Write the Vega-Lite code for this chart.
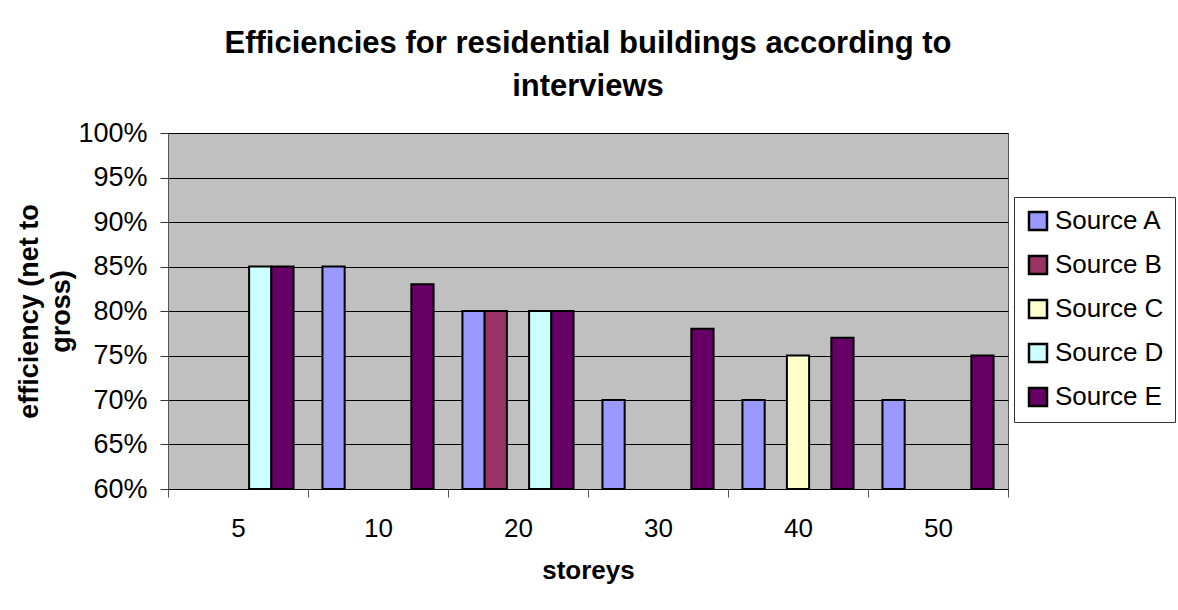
{
  "$schema": "https://vega.github.io/schema/vega-lite/v6.json",
  "autosize": {"type": "none"},
  "padding": {"left": 168, "top": 133, "right": 170, "bottom": 121},
  "width": 840,
  "height": 356,
  "background": "white",
  "title": {
    "text": ["Efficiencies for residential buildings according to", "interviews"],
    "font": "Liberation Sans",
    "fontSize": 31,
    "fontWeight": "bold",
    "lineHeight": 43,
    "anchor": "middle",
    "frame": "group",
    "offset": 16,
    "color": "black"
  },
  "data": {
    "values": [
      {"storeys": "5", "source": "Source D", "efficiency": 0.85},
      {"storeys": "5", "source": "Source E", "efficiency": 0.85},
      {"storeys": "10", "source": "Source A", "efficiency": 0.85},
      {"storeys": "10", "source": "Source E", "efficiency": 0.83},
      {"storeys": "20", "source": "Source A", "efficiency": 0.80},
      {"storeys": "20", "source": "Source B", "efficiency": 0.80},
      {"storeys": "20", "source": "Source D", "efficiency": 0.80},
      {"storeys": "20", "source": "Source E", "efficiency": 0.80},
      {"storeys": "30", "source": "Source A", "efficiency": 0.70},
      {"storeys": "30", "source": "Source E", "efficiency": 0.78},
      {"storeys": "40", "source": "Source A", "efficiency": 0.70},
      {"storeys": "40", "source": "Source C", "efficiency": 0.75},
      {"storeys": "40", "source": "Source E", "efficiency": 0.77},
      {"storeys": "50", "source": "Source A", "efficiency": 0.70},
      {"storeys": "50", "source": "Source E", "efficiency": 0.75}
    ]
  },
  "mark": {"type": "bar", "stroke": "black", "strokeWidth": 2},
  "encoding": {
    "x": {
      "field": "storeys",
      "type": "nominal",
      "sort": ["5", "10", "20", "30", "40", "50"],
      "scale": {"paddingInner": 0, "paddingOuter": 0},
      "axis": {
        "title": "storeys",
        "titleFont": "Liberation Sans",
        "titleFontSize": 26,
        "titleFontWeight": "bold",
        "titleColor": "black",
        "titlePadding": 16,
        "labelFont": "Liberation Sans",
        "labelFontSize": 26,
        "labelColor": "black",
        "labelAngle": 0,
        "labelPadding": 18,
        "tickBand": "extent",
        "tickSize": 8,
        "tickColor": "#555555",
        "domainColor": "black",
        "grid": false
      }
    },
    "xOffset": {
      "field": "source",
      "type": "nominal",
      "scale": {"domain": ["Source A", "Source B", "Source C", "Source D", "Source E"], "paddingInner": 0, "paddingOuter": 0.65}
    },
    "y": {
      "field": "efficiency",
      "type": "quantitative",
      "scale": {"domain": [0.6, 1.0], "zero": false, "nice": false},
      "axis": {
        "title": ["efficiency (net to", "gross)"],
        "titleFont": "Liberation Sans",
        "titleFontSize": 27,
        "titleFontWeight": "bold",
        "titleColor": "black",
        "titleLineHeight": 32,
        "titlePadding": 2,
        "labelFont": "Liberation Sans",
        "labelFontSize": 27,
        "labelColor": "black",
        "labelPadding": 13,
        "format": ".0%",
        "values": [0.6, 0.65, 0.7, 0.75, 0.8, 0.85, 0.9, 0.95, 1.0],
        "tickSize": 8,
        "tickColor": "#333333",
        "domainColor": "#555555",
        "grid": true,
        "gridColor": "black",
        "gridWidth": 1
      }
    },
    "y2": {"datum": 0.6},
    "color": {
      "field": "source",
      "type": "nominal",
      "scale": {
        "domain": ["Source A", "Source B", "Source C", "Source D", "Source E"],
        "range": ["#9999FF", "#993366", "#FFFFCC", "#CCFFFF", "#660066"]
      },
      "legend": {
        "title": null,
        "orient": "none",
        "legendX": 846,
        "legendY": 64,
        "symbolType": "square",
        "symbolSize": 324,
        "symbolStrokeColor": "black",
        "symbolStrokeWidth": 2.5,
        "labelFont": "Liberation Sans",
        "labelFontSize": 26,
        "labelColor": "black",
        "labelOffset": 4,
        "rowPadding": 16,
        "padding": 11,
        "strokeColor": "#333333",
        "fillColor": "white"
      }
    }
  },
  "config": {
    "view": {"fill": "#C0C0C0", "stroke": "#555555", "strokeWidth": 1}
  }
}
